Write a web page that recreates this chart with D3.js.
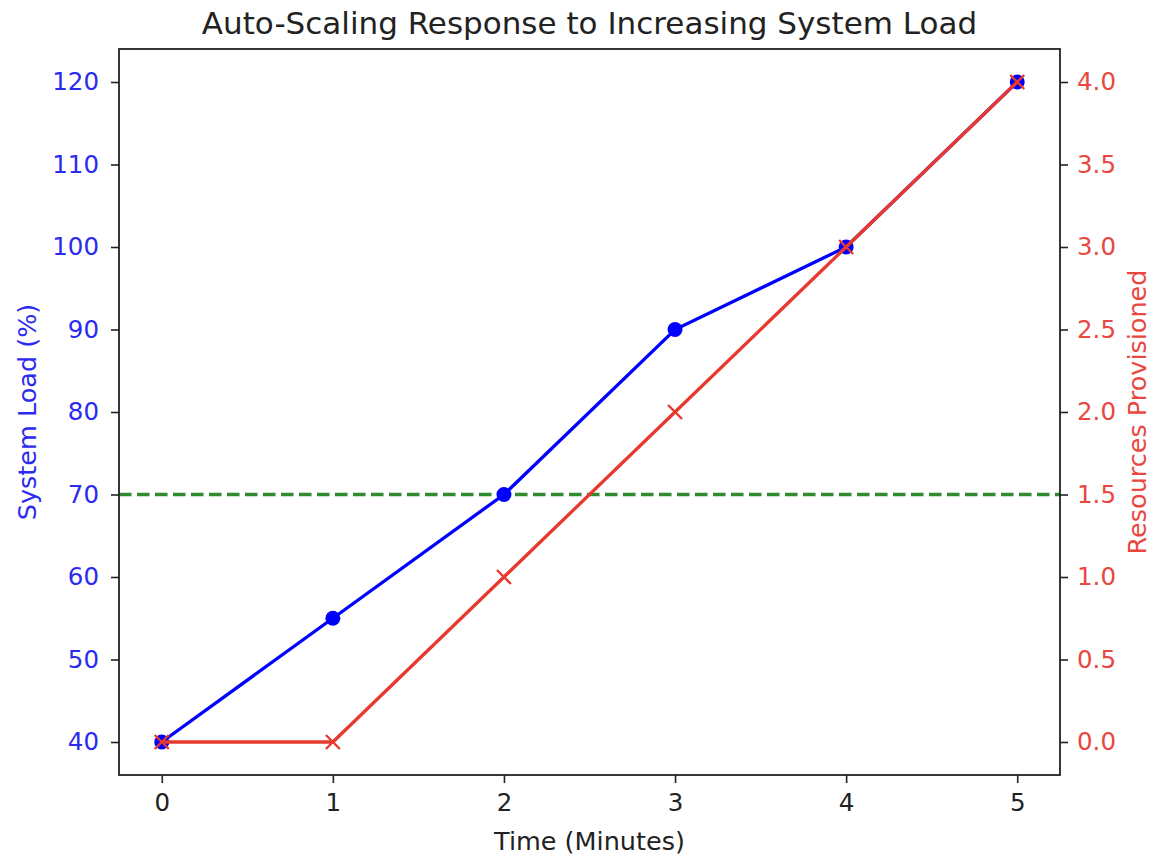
<!DOCTYPE html>
<html>
<head>
<meta charset="utf-8">
<script src="https://cdn.jsdelivr.net/npm/d3@7"></script>
<style>
  body { margin: 0; background: #fff; }
  text { font-family: "DejaVu Sans", sans-serif; }
</style>
</head>
<body>
<div id="chart"></div>
<script>
// data
var minutes = [0, 1, 2, 3, 4, 5];
var systemLoad = [40, 55, 70, 90, 100, 120];
var resources = [0, 0, 1, 2, 3, 4];
var threshold = 70;
var xTicks = [0, 1, 2, 3, 4, 5];
var loadTicks = [40, 50, 60, 70, 80, 90, 100, 110, 120];
var resTicks = [0, 0.5, 1, 1.5, 2, 2.5, 3, 3.5, 4];

var W = 1153, H = 857;
var margin = { top: 49, right: 93, bottom: 82, left: 119 },
    width = W - margin.left - margin.right,
    height = H - margin.top - margin.bottom;

var blue = "#0000ff", blueText = "#2b2bf0";
var red = "#e8392e", redText = "#e8483f";
var green = "#2e8b2e";

var svg = d3.select("#chart")
    .append("svg")
    .attr("width", W)
    .attr("height", H);

var g = svg.append("g")
    .attr("transform", "translate(" + margin.left + "," + margin.top + ")");

var x = d3.scaleLinear().domain([-0.25, 5.25]).range([0, width]);
var yL = d3.scaleLinear().domain([36, 124]).range([height, 0]);
var yR = d3.scaleLinear().domain([-0.2, 4.2]).range([height, 0]);

// axes
var xAxis = g.append("g")
    .attr("transform", "translate(0," + height + ")")
    .call(d3.axisBottom(x).tickValues(xTicks).tickSize(8).tickPadding(11).tickFormat(d3.format("d")));
var leftAxis = g.append("g")
    .call(d3.axisLeft(yL).tickValues(loadTicks).tickSize(8).tickPadding(12).tickFormat(d3.format("d")));
var rightAxis = g.append("g")
    .attr("transform", "translate(" + width + ",0)")
    .call(d3.axisRight(yR).tickValues(resTicks).tickSize(8).tickPadding(9).tickFormat(d3.format(".1f")));

[xAxis, leftAxis, rightAxis].forEach(function (a) {
    a.select(".domain").remove();
    a.selectAll(".tick line").attr("stroke", "#222").attr("stroke-width", 1.6);
    a.selectAll(".tick text").style("font-size", "24.5px").attr("fill", "#222");
});
leftAxis.selectAll(".tick text").attr("fill", blueText);
rightAxis.selectAll(".tick text").attr("fill", redText);

// threshold line
g.append("line")
    .attr("x1", 0).attr("x2", width)
    .attr("y1", yL(threshold)).attr("y2", yL(threshold))
    .attr("stroke", green)
    .attr("stroke-width", 3.3)
    .attr("stroke-dasharray", "12.5,5.5");

// system load line
var loadLine = d3.line()
    .x(function (d, i) { return x(minutes[i]); })
    .y(function (d) { return yL(d); });
g.append("path")
    .datum(systemLoad)
    .attr("d", loadLine)
    .attr("fill", "none")
    .attr("stroke", blue)
    .attr("stroke-width", 3.3);
g.selectAll(".dot")
    .data(systemLoad)
    .enter()
    .append("circle")
    .attr("cx", function (d, i) { return x(minutes[i]); })
    .attr("cy", function (d) { return yL(d); })
    .attr("r", 7.5)
    .attr("fill", blue);

// resources line
var resLine = d3.line()
    .x(function (d, i) { return x(minutes[i]); })
    .y(function (d) { return yR(d); });
g.append("path")
    .datum(resources)
    .attr("d", resLine)
    .attr("fill", "none")
    .attr("stroke", red)
    .attr("stroke-width", 3.3);
var s = 7;
g.selectAll(".cross")
    .data(resources)
    .enter()
    .append("path")
    .attr("transform", function (d, i) { return "translate(" + x(minutes[i]) + "," + yR(d) + ")"; })
    .attr("d", "M" + (-s) + "," + (-s) + "L" + s + "," + s + "M" + (-s) + "," + s + "L" + s + "," + (-s))
    .attr("stroke", red)
    .attr("stroke-width", 2.4)
    .attr("fill", "none");

// frame
g.append("rect")
    .attr("width", width).attr("height", height)
    .attr("fill", "none")
    .attr("stroke", "#222")
    .attr("stroke-width", 1.8);

// labels
svg.append("text")
    .attr("x", margin.left + width / 2).attr("y", 34)
    .attr("text-anchor", "middle")
    .style("font-size", "31px")
    .attr("fill", "#222")
    .text("Auto-Scaling Response to Increasing System Load");

svg.append("text")
    .attr("x", margin.left + width / 2).attr("y", 850)
    .attr("text-anchor", "middle")
    .style("font-size", "25.5px")
    .attr("fill", "#222")
    .text("Time (Minutes)");

svg.append("text")
    .attr("transform", "translate(36," + (margin.top + height / 2) + ") rotate(-90)")
    .attr("text-anchor", "middle")
    .style("font-size", "25.5px")
    .attr("fill", blueText)
    .text("System Load (%)");

svg.append("text")
    .attr("transform", "translate(1146," + (margin.top + height / 2) + ") rotate(-90)")
    .attr("text-anchor", "middle")
    .style("font-size", "25.5px")
    .attr("fill", redText)
    .text("Resources Provisioned");
</script>
</body>
</html>
